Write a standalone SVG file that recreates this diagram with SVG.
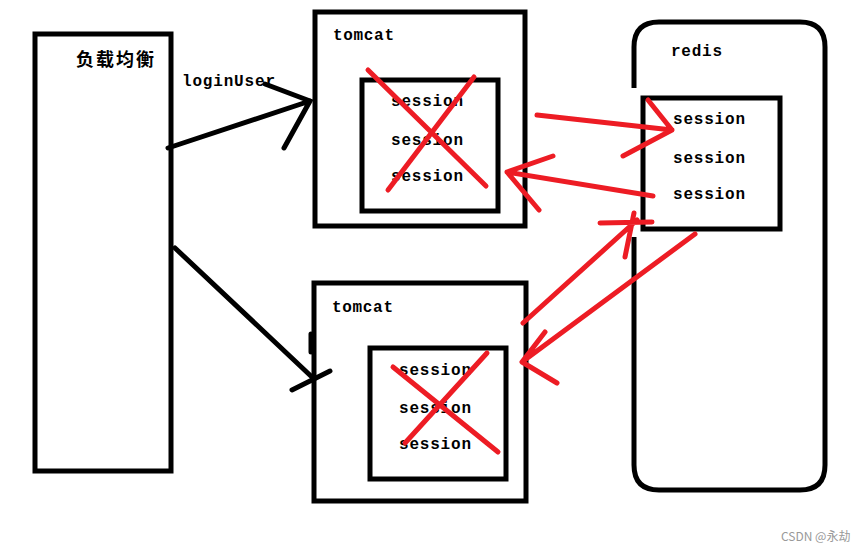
<svg xmlns="http://www.w3.org/2000/svg" width="865" height="553" viewBox="0 0 865 553">
<style>
.box{fill:#fff;stroke:#000;stroke-width:5}
.blk{fill:none;stroke:#000;stroke-width:5;stroke-linecap:round}
.red{fill:none;stroke:#ed1c24;stroke-width:5;stroke-linecap:round;stroke-linejoin:round}
.t{font-family:"Liberation Mono","DejaVu Sans Mono",monospace;font-weight:bold;font-size:16px;fill:#000}
.cn{font-family:"Noto Sans CJK SC","Noto Sans",sans-serif;font-weight:bold;font-size:18px;fill:#000}
.wm{font-family:"Noto Sans CJK SC","Liberation Sans",sans-serif;font-size:12px;fill:#999}
</style>
<rect width="865" height="553" fill="#fff"/>
<g id="lb">
<rect class="box" x="35" y="34" width="136" height="437"/>
<text class="cn" x="76" y="66" textLength="78">负载均衡</text>
</g>
<g id="tomcat1">
<rect class="box" x="315" y="12" width="210" height="214"/>
<text class="t" x="333" y="40" textLength="61">tomcat</text>
<rect class="box" x="362" y="80" width="136" height="131"/>
<text class="t" x="391" y="106" textLength="72">session</text>
<text class="t" x="391" y="145" textLength="72">session</text>
<text class="t" x="391" y="181" textLength="72">session</text>
</g>
<g id="tomcat2">
<rect class="box" x="314" y="283" width="212" height="218"/>
<text class="t" x="332" y="312" textLength="61">tomcat</text>
<rect class="box" x="370" y="348" width="136" height="131"/>
<text class="t" x="399" y="375" textLength="72">session</text>
<text class="t" x="399" y="413" textLength="72">session</text>
<text class="t" x="399" y="449" textLength="72">session</text>
</g>
<g id="redis">
<path class="blk" style="stroke-linecap:butt" d="M634 88 V47 Q634 22 659 22 H800 Q825 22 825 47 V465 Q825 490 800 490 H659 Q634 490 634 465 V237"/>
<text class="t" x="671" y="56" textLength="51">redis</text>
<rect class="box" x="643" y="98" width="137" height="131"/>
<text class="t" x="673" y="124" textLength="72">session</text>
<text class="t" x="673" y="163" textLength="72">session</text>
<text class="t" x="673" y="199" textLength="72">session</text>
</g>
<g id="connectors">
<text class="t" x="182" y="86" textLength="93">loginUser</text>
<path class="blk" d="M168 148 L310 101 M265 84 L310 101 L284 148"/>
<path class="blk" d="M175 248 L313 378 M292 390 L330 371 M311 334 V352"/>
<path class="red" d="M368 70 L486 186 M474 77 L388 190"/>
<path class="red" d="M393 367 L498 452 M487 353 L405 443"/>
<path class="red" d="M537 115 L672 130 M648 100 L672 130 L623 156"/>
<path class="red" d="M653 196 L507 172 M553 156 L507 172 L539 210"/>
<path class="red" d="M523 323 L637 220 M600 223 L652 222 M634 213 L625 257"/>
<path class="red" d="M695 234 L522 362 M545 332 L522 362 L557 383"/>
</g>
<text class="wm" x="781" y="541">CSDN @永劫</text>
</svg>
